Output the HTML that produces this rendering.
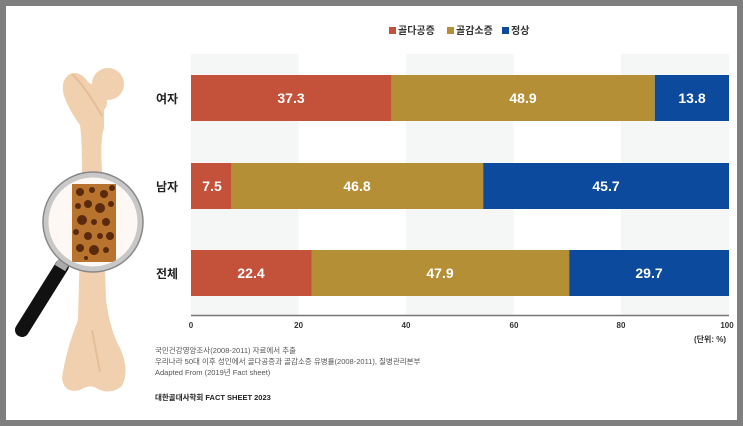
<!DOCTYPE html>
<html><head><meta charset="utf-8"><style>
body{margin:0;width:743px;height:426px;overflow:hidden;background:#fff}
svg{display:block}
text{font-family:"Liberation Sans","Noto Sans CJK KR",sans-serif}
</style></head><body>
<svg width="743" height="426" viewBox="0 0 743 426">
<rect x="0" y="0" width="743" height="426" fill="#7f7f7f"/>
<rect x="6" y="6" width="731" height="414" fill="#fff"/>
<rect x="191" y="54" width="107.6" height="261" fill="#f5f6f6"/>
<rect x="406" y="54" width="107.6" height="261" fill="#f5f6f6"/>
<rect x="621" y="54" width="108" height="261" fill="#f5f6f6"/>
<line x1="191" y1="315.5" x2="729" y2="315.5" stroke="#777" stroke-width="1.5"/>
<rect x="389" y="27" width="7" height="7" fill="#c4523a"/>
<text x="398" y="34" font-size="10" font-weight="bold" fill="#333">골다공증</text>
<rect x="447" y="27" width="7" height="7" fill="#b58f35"/>
<text x="456" y="34" font-size="10" font-weight="bold" fill="#333">골감소증</text>
<rect x="502" y="27" width="7" height="7" fill="#0b4a9c"/>
<text x="511" y="34" font-size="10" font-weight="bold" fill="#333">정상</text>
<g font-size="14" font-weight="bold" fill="#fff" text-anchor="middle">
<rect x="191" y="75" width="200.7" height="46" fill="#c4523a"/>
<rect x="391.7" y="75" width="263.1" height="46" fill="#b58f35"/>
<rect x="654.8" y="75" width="74.2" height="46" fill="#0b4a9c"/>
<text x="291" y="103">37.3</text><text x="523" y="103">48.9</text><text x="692" y="103">13.8</text>
<rect x="191" y="163" width="40.4" height="46" fill="#c4523a"/>
<rect x="231.4" y="163" width="251.8" height="46" fill="#b58f35"/>
<rect x="483.2" y="163" width="245.8" height="46" fill="#0b4a9c"/>
<text x="212" y="191">7.5</text><text x="357" y="191">46.8</text><text x="606" y="191">45.7</text>
<rect x="191" y="250" width="120.5" height="46" fill="#c4523a"/>
<rect x="311.5" y="250" width="257.7" height="46" fill="#b58f35"/>
<rect x="569.2" y="250" width="159.8" height="46" fill="#0b4a9c"/>
<text x="251" y="278">22.4</text><text x="440" y="278">47.9</text><text x="649" y="278">29.7</text>
</g>
<g font-size="12" font-weight="bold" fill="#222">
<text x="156" y="103">여자</text><text x="156" y="191">남자</text><text x="156" y="278">전체</text>
</g>
<g font-size="8" font-weight="bold" fill="#333" text-anchor="middle">
<text x="191" y="328">0</text><text x="298.6" y="328">20</text><text x="406" y="328">40</text>
<text x="514" y="328">60</text><text x="621" y="328">80</text><text x="727" y="328">100</text>
<text x="710" y="342">(단위: %)</text>
</g>
<g font-size="7.5" fill="#555">
<text x="155" y="353">국민건강영양조사(2008-2011) 자료에서 추출</text>
<text x="155" y="364">우리나라 50대 이후 성인에서 골다공증과 골감소증 유병률(2008-2011), 질병관리본부</text>
<text x="155" y="375">Adapted From (2019년 Fact sheet)</text>
</g>
<text x="155" y="400" font-size="7.5" font-weight="bold" fill="#222">대한골대사학회 FACT SHEET 2023</text>
<!-- bone -->
<g fill="#f1d0b0">
<circle cx="108" cy="84" r="16"/>
<path d="M64,96 Q60,80 70,74 Q80,70 88,82 L100,90 Q112,100 104,110 L104,128 Q100,140 102,170 L106,300 Q110,330 120,348 Q130,370 122,386 Q110,396 96,388 Q90,384 80,390 Q64,394 62,378 Q66,350 78,320 L82,170 Q82,140 80,125 Q70,112 64,96 Z"/>
</g>
<path d="M72,74 Q85,86 102,116" stroke="#e5bd98" stroke-width="2" fill="none"/>
<path d="M92,330 L100,372" stroke="#e5bd98" stroke-width="2" fill="none"/>
<!-- magnifier -->
<line x1="62" y1="266" x2="22" y2="330" stroke="#111" stroke-width="14" stroke-linecap="round"/>
<line x1="66" y1="258" x2="60" y2="268" stroke="#aaa" stroke-width="12"/>
<circle cx="93" cy="222" r="48" fill="#fdf8f3"/>
<rect x="72" y="184" width="44" height="78" fill="#b8732e"/>
<g fill="#5a2a0c">
<circle cx="80" cy="192" r="4"/><circle cx="92" cy="190" r="3"/><circle cx="104" cy="194" r="4"/><circle cx="112" cy="188" r="3"/>
<circle cx="78" cy="206" r="3"/><circle cx="88" cy="204" r="4"/><circle cx="100" cy="208" r="5"/><circle cx="111" cy="204" r="3"/>
<circle cx="82" cy="220" r="5"/><circle cx="94" cy="222" r="3"/><circle cx="106" cy="222" r="4"/><circle cx="76" cy="232" r="3"/>
<circle cx="88" cy="236" r="4"/><circle cx="100" cy="236" r="3"/><circle cx="110" cy="236" r="4"/><circle cx="80" cy="248" r="4"/>
<circle cx="94" cy="250" r="5"/><circle cx="106" cy="250" r="3"/><circle cx="86" cy="258" r="2"/>
</g>
<circle cx="93" cy="222" r="47" fill="none" stroke="#c8c8c8" stroke-width="5"/>
<circle cx="93" cy="222" r="50" fill="none" stroke="#888" stroke-width="1.5"/>
</svg>
</body></html>
